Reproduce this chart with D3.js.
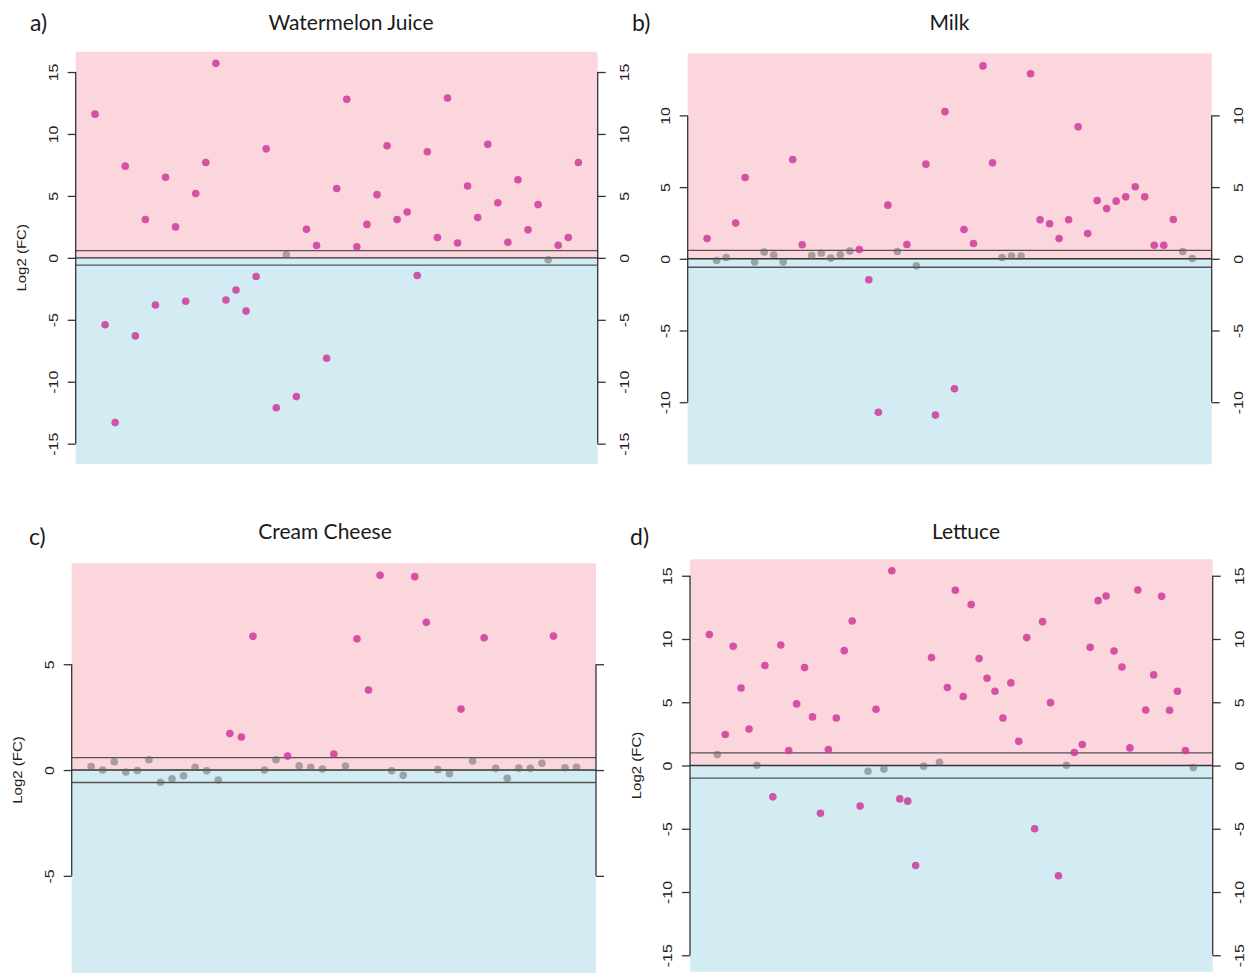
<!DOCTYPE html>
<html>
<head>
<meta charset="utf-8">
<script src="https://cdn.jsdelivr.net/npm/d3@7"></script>
<style>
  body { margin: 0; background: #fff; }
  svg { display: block; }
  .tick text, .ylab { font-family: "Liberation Sans", Arial, sans-serif; fill: #222; }
  .title, .plabel { font-family: Lato, "Open Sans", sans-serif; fill: #1a1a1a; }
</style>
</head>
<body>
<div class="chart"></div>
<script>
// log2 fold change per sample, read left to right in each panel
var watermelonValues = [11.6, -5.4, -13.3, 7.4, -6.3, 3.1, -3.8, 6.5, 2.5, -3.5,
    5.2, 7.7, 15.7, -3.4, -2.6, -4.3, -1.5, 8.8, -12.1, 0.27,
    -11.2, 2.3, 1.0, -8.1, 5.6, 12.8, 0.9, 2.7, 5.1, 9.05,
    3.1, 3.7, -1.43, 8.57, 1.64, 12.9, 1.2, 5.8, 3.26, 9.16,
    4.45, 1.26, 6.3, 2.26, 4.3, -0.16, 1.02, 1.64, 7.7];

var milkValues = [1.42, -0.12, 0.09, 2.49, 5.67, -0.23, 0.47, 0.26, -0.23, 6.92,
    0.98, 0.23, 0.4, 0.05, 0.28, 0.54, 0.65, -1.46, -10.7, 3.74,
    0.51, 1.0, -0.49, 6.6, -10.9, 10.26, -9.06, 2.04, 1.07, 13.45,
    6.69, 0.09, 0.2, 0.2, 12.9, 2.72, 2.44, 1.42, 2.72, 9.2,
    1.76, 4.06, 3.5, 4.02, 4.32, 5.02, 4.32, 0.95, 0.95, 2.74,
    0.51, 0.02];

var creamCheeseValues = [0.17, 0, 0.39, -0.09, -0.02, 0.49, -0.58, -0.41, -0.27, 0.13,
    -0.03, -0.47, 1.73, 1.56, 6.32, 0, 0.49, 0.66, 0.2, 0.13,
    0.05, 0.76, 0.19, 6.2, 3.78, 9.2, -0.03, -0.25, 9.14, 6.98,
    0.02, -0.17, 2.88, 0.43, 6.25, 0.08, -0.39, 0.09, 0.08, 0.32,
    6.33, 0.11, 0.13];

var lettuceValues = [10.35, 0.87, 2.45, 9.42, 6.13, 2.89, 0.02, 7.9, -2.48, 9.53,
    1.18, 4.87, 7.74, 3.84, -3.77, 1.26, 3.76, 9.08, 11.42, -3.21,
    -0.45, 4.45, -0.27, 15.4, -2.64, -2.82, -7.9, -0.05, 8.53, 0.26,
    6.16, 13.85, 5.45, 12.72, 8.45, 6.9, 5.87, 3.76, 6.53, 1.92,
    10.11, -5.0, 11.37, 4.97, -8.72, 0.02, 1.03, 1.66, 9.34, 13.03,
    13.4, 9.05, 7.79, 1.39, 13.87, 4.39, 7.16, 13.37, 4.37, 5.87,
    1.18, -0.16];

var titles = ["Watermelon Juice", "Milk", "Cream Cheese", "Lettuce"];
var panelLetters = ["a)", "b)", "c)", "d)"];
var cutoffs = [0.585, 0.585, 0.585, 1];          // log2 fold change cutoff
var ticksA = [-15, -10, -5, 0, 5, 10, 15];
var ticksB = [-10, -5, 0, 5, 10];
var ticksC = [-5, 0, 5];
var ticksD = [-15, -10, -5, 0, 5, 10, 15];

var width = 1248, height = 973;
var pink = "#fbd7dd", blue = "#d3ecf3";
var upColor = "#cc3a9c", nsColor = "#5e5e5e";

// layout of each panel on the page
var panels = [
    {values: watermelonValues, ticks: ticksA, x0: 75.7, x1: 597.7, top: 51.7, lim: 16.64, bottom: 464,
        rightLabels: true, ylab: true, titleX: 351, titleY: 30, letterX: 30, letterY: 31},
    {values: milkValues, ticks: ticksB, x0: 687.7, x1: 1211.7, top: 53.3, lim: 14.33, bottom: 464.3,
        rightLabels: true, ylab: false, titleX: 949.5, titleY: 30, letterX: 632, letterY: 31},
    {values: creamCheeseValues, ticks: ticksC, x0: 71.7, x1: 596, top: 563.3, lim: 9.77, bottom: 976.8,
        rightLabels: false, ylab: true, titleX: 325, titleY: 539, letterX: 29, letterY: 545},
    {values: lettuceValues, ticks: ticksD, x0: 690, x1: 1212.7, top: 559.3, lim: 16.3, bottom: 971.7,
        rightLabels: true, ylab: true, titleX: 966, titleY: 539, letterX: 630, letterY: 545}
];

var svg = d3.select(".chart").append("svg")
    .attr("width", width)
    .attr("height", height);

panels.forEach(function (p, k) {
    var n = p.values.length;
    var pad = 0.04 * (n - 1);
    var x = d3.scaleLinear().domain([1 - pad, n + pad]).range([p.x0, p.x1]);
    var y = d3.scaleLinear().domain([-p.lim, p.lim]).range([p.bottom, p.top]);
    var cut = cutoffs[k];
    var g = svg.append("g");

    // up / down shaded halves
    g.append("rect")
        .attr("x", p.x0).attr("y", y(p.lim))
        .attr("width", p.x1 - p.x0).attr("height", y(0) - y(p.lim))
        .attr("fill", pink);
    g.append("rect")
        .attr("x", p.x0).attr("y", y(0))
        .attr("width", p.x1 - p.x0).attr("height", y(-p.lim) - y(0))
        .attr("fill", blue);

    // cutoff lines and zero line
    [cut, -cut].forEach(function (c) {
        g.append("line")
            .attr("x1", p.x0).attr("x2", p.x1)
            .attr("y1", y(c)).attr("y2", y(c))
            .attr("stroke", "#444").attr("stroke-width", 1.4).attr("opacity", 0.9);
    });
    g.append("line")
        .attr("x1", p.x0).attr("x2", p.x1)
        .attr("y1", y(0)).attr("y2", y(0))
        .attr("stroke", "#333").attr("stroke-width", 1.4);

    // points
    g.append("g").selectAll("circle")
        .data(p.values)
        .enter().append("circle")
        .attr("cx", function (d, i) { return x(i + 1); })
        .attr("cy", function (d) { return y(d); })
        .attr("r", 3.8)
        .attr("fill", function (d) { return Math.abs(d) > cut ? upColor : nsColor; })
        .attr("opacity", function (d) { return Math.abs(d) > cut ? 0.85 : 0.5; });

    // axes on both sides, line only between first and last tick like base R
    var tmin = d3.min(p.ticks), tmax = d3.max(p.ticks);
    function drawAxis(side) {
        var left = side === "left";
        var axis = (left ? d3.axisLeft(y) : d3.axisRight(y))
            .tickValues(p.ticks)
            .tickSize(8)
            .tickSizeOuter(0)
            .tickFormat(function (d) { return String(d); });
        var ag = g.append("g")
            .attr("transform", "translate(" + (left ? p.x0 : p.x1) + ",0)")
            .call(axis);
        ag.select(".domain").remove();
        ag.selectAll(".tick line").attr("stroke", "#333").attr("stroke-width", 1.3);
        ag.append("line")
            .attr("y1", y(tmin)).attr("y2", y(tmax))
            .attr("stroke", "#333").attr("stroke-width", 1.3);
        var off = left ? -23 : 26.5;
        ag.selectAll(".tick text")
            .attr("x", null).attr("dy", "0.36em")
            .attr("text-anchor", "middle")
            .attr("font-size", 13.5)
            .attr("transform", "translate(" + off + ",0) rotate(-90) scale(1.18,1)")
            .style("display", (left || p.rightLabels) ? null : "none");
    }
    drawAxis("left");
    drawAxis("right");

    if (p.ylab) {
        g.append("text")
            .attr("class", "ylab")
            .attr("font-size", 12.5)
            .attr("text-anchor", "middle")
            .attr("dy", "0.36em")
            .attr("transform", "translate(" + (p.x0 - 54) + "," + y(0) + ") rotate(-90) scale(1.2,1)")
            .text("Log2 (FC)");
    }

    g.append("text")
        .attr("class", "title")
        .attr("x", p.titleX).attr("y", p.titleY)
        .attr("text-anchor", "middle")
        .attr("font-size", 21)
        .text(titles[k]);

    g.append("text")
        .attr("class", "plabel")
        .attr("x", p.letterX).attr("y", p.letterY)
        .attr("font-size", 23)
        .text(panelLetters[k]);
});
</script>
</body>
</html>
